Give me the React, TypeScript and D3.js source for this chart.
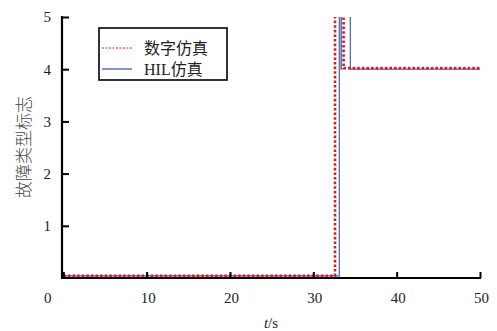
import React, { useEffect, useRef } from 'react';
import * as d3 from 'd3';

// digital simulation (red dotted) - step points
const digitalT = [0, 32.6, 32.6, 33.63, 33.63, 50];
const digitalV = [0.04, 0.04, 6, 6, 4.02, 4.02];
// HIL simulation (blue)
const hilT = [0, 33.12, 33.12, 33.33, 33.33, 33.36, 33.36, 34.44, 34.44, 50];
const hilV = [0.04, 0.04, 6, 6, 4.0, 4.0, 6, 6, 4.0, 4.0];

const xTicks = [0, 10, 20, 30, 40, 50];
const yTicks = [1, 2, 3, 4, 5];
const legendLabels = ['数字仿真', 'HIL仿真'];

const W = 497;
const H = 331;
const SERIF = "'Times New Roman', 'Liberation Serif', 'DejaVu Serif', serif";

const App = () => {
  const svgRef = useRef<SVGSVGElement>(null);

  useEffect(() => {
    const svg = d3.select(svgRef.current);
    svg.selectAll('*').remove();

    const x = d3.scaleLinear().domain([0, 50]).range([63.3, 480]);
    const y = d3.scaleLinear().domain([0, 5]).range([278, 17]);

    svg
      .append('defs')
      .append('clipPath')
      .attr('id', 'plotclip')
      .append('rect')
      .attr('x', 62)
      .attr('y', 17)
      .attr('width', 420)
      .attr('height', 261);

    const lineGen = d3
      .line<[number, number]>()
      .x((d) => x(d[0]))
      .y((d) => y(d[1]));

    const plot = svg.append('g').attr('clip-path', 'url(#plotclip)');

    plot
      .append('path')
      .attr('d', lineGen(hilT.map((t, i) => [t, hilV[i]])))
      .attr('fill', 'none')
      .attr('stroke', '#4a63b0')
      .attr('stroke-width', 1.2);

    plot
      .append('path')
      .attr('d', lineGen(digitalT.map((t, i) => [t, digitalV[i]])))
      .attr('fill', 'none')
      .attr('stroke', '#d0202e')
      .attr('stroke-width', 2.6)
      .attr('stroke-dasharray', '2.6,2');

    // x axis
    const xAxis = d3
      .axisBottom(x)
      .tickValues(xTicks)
      .tickSizeInner(-6)
      .tickSizeOuter(0)
      .tickPadding(14)
      .tickFormat(d3.format('d'));
    const gx = svg.append('g').attr('transform', 'translate(0,278)').call(xAxis);
    gx.attr('font-family', null).attr('font-size', null);
    gx.select('.domain').attr('stroke', '#000').attr('stroke-width', 2.2).attr('d', 'M61.5,0H481');
    gx.selectAll('.tick line').attr('stroke', '#000').attr('stroke-width', 2);
    gx.selectAll('.tick text')
      .style('font-family', SERIF)
      .style('font-size', '15px')
      .attr('fill', '#222')
      .attr('dx', (d: any) => (d === 0 ? -16 : 1));

    // y axis
    const yAxis = d3
      .axisLeft(y)
      .tickValues(yTicks)
      .tickSizeInner(-7)
      .tickSizeOuter(0)
      .tickPadding(11)
      .tickFormat(d3.format('d'));
    const gy = svg.append('g').attr('transform', 'translate(62,0)').call(yAxis);
    gy.attr('font-family', null).attr('font-size', null);
    gy.select('.domain').attr('stroke', '#000').attr('stroke-width', 2.2).attr('d', 'M0,16V279');
    gy.selectAll('.tick line').attr('stroke', '#000').attr('stroke-width', 2);
    gy.selectAll('.tick text')
      .style('font-family', SERIF)
      .style('font-size', '15px')
      .attr('fill', '#222');

    // axis titles
    const xt = svg
      .append('text')
      .attr('x', 271)
      .attr('y', 328)
      .attr('text-anchor', 'middle')
      .style('font-family', SERIF)
      .style('font-size', '15px')
      .attr('fill', '#222');
    xt.append('tspan').attr('font-style', 'italic').text('t');
    xt.append('tspan').text('/s');

    svg
      .append('text')
      .attr('transform', 'translate(30,147) rotate(-90)')
      .attr('text-anchor', 'middle')
      .style('font-family', "'Noto Sans CJK SC', sans-serif")
      .style('font-weight', '300')
      .style('font-size', '17px')
      .attr('fill', '#444')
      .text('故障类型标志');

    // legend
    const lg = svg.append('g');
    lg.append('rect')
      .attr('x', 99)
      .attr('y', 28)
      .attr('width', 128)
      .attr('height', 52)
      .attr('fill', '#fff')
      .attr('stroke', '#000')
      .attr('stroke-width', 1.6);
    const styles = [
      { stroke: '#e0202e', dash: '2,1.5', width: 1 },
      { stroke: '#2f4aa0', dash: null, width: 1.2 },
    ];
    legendLabels.forEach((lab, i) => {
      const cy = 48 + i * 21;
      lg.append('line')
        .attr('x1', 102)
        .attr('x2', 132)
        .attr('y1', cy)
        .attr('y2', cy)
        .attr('stroke', styles[i].stroke)
        .attr('stroke-width', styles[i].width)
        .attr('stroke-dasharray', styles[i].dash);
      lg.append('text')
        .attr('x', 144)
        .attr('y', cy + 6)
        .style('font-family', SERIF + ", 'Noto Sans CJK SC'")
        .style('font-size', '16px')
        .attr('fill', '#222')
        .text(lab);
    });
  }, []);

  return (
    <svg
      ref={svgRef}
      width={W}
      height={H}
      style={{ position: 'absolute', left: 0, top: 0, background: '#fff' }}
    />
  );
};

export default App;
